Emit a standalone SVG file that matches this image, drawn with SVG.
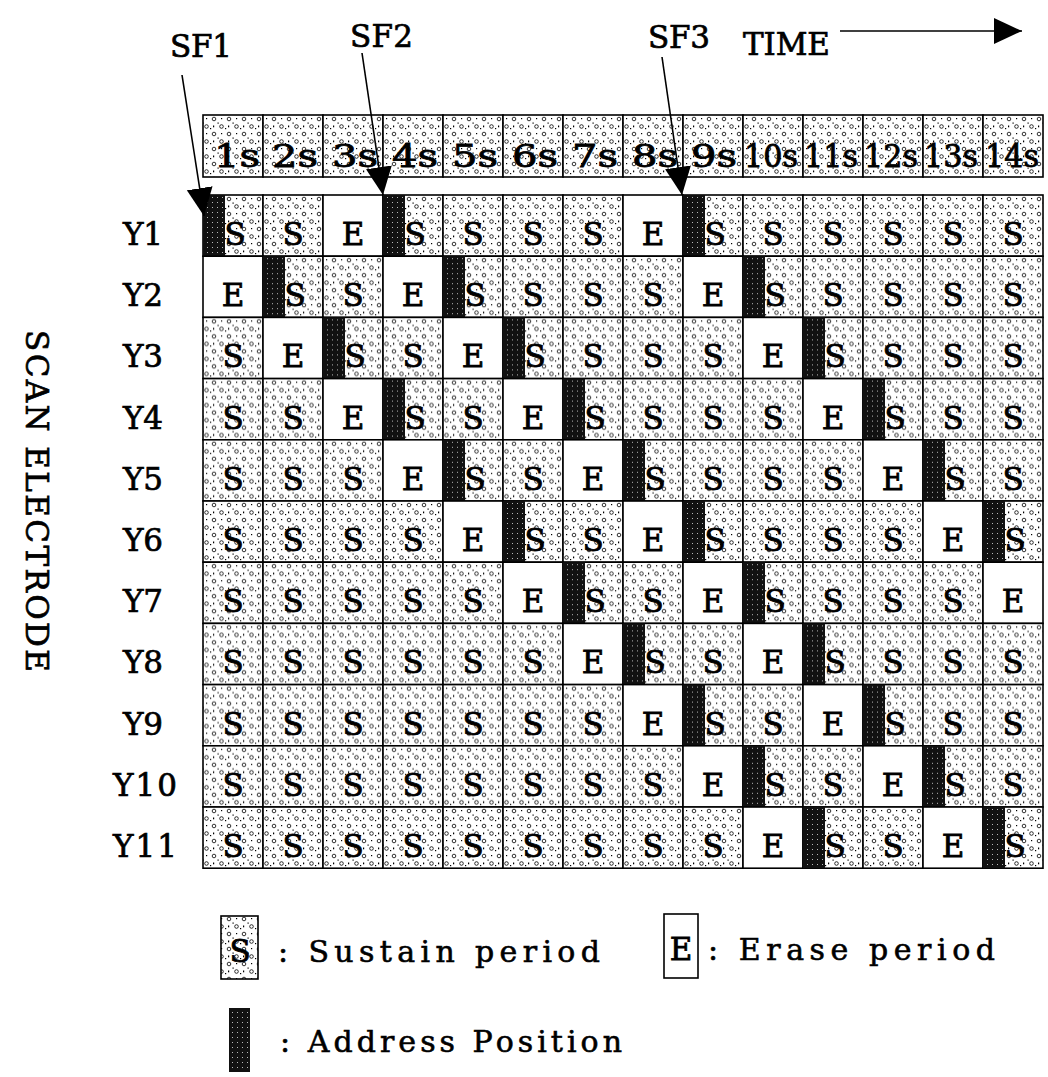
<svg xmlns="http://www.w3.org/2000/svg" width="1048" height="1077" viewBox="0 0 1048 1077">
<style>
.t{font-family:"DejaVu Serif","Liberation Serif",serif;font-size:31px;text-anchor:middle;fill:#000;stroke:#000;stroke-width:0.8}
.lab{font-family:"DejaVu Serif","Liberation Serif",serif;font-size:31px;fill:#000;stroke:#000;stroke-width:0.7}
.leg{font-family:"DejaVu Serif","Liberation Serif",serif;font-size:30px;fill:#000;stroke:#000;stroke-width:0.6}
.s{fill:url(#stip);stroke:#000;stroke-width:1.6}
.e{fill:#fff;stroke:#000;stroke-width:1.6}
.a{fill:url(#adr);stroke:none}
.ln{stroke:#000;stroke-width:1.6;fill:none}
</style>
<defs>
<pattern id="stip" width="15" height="15" patternUnits="userSpaceOnUse">
<rect width="15" height="15" fill="#fff"/>
<circle cx="4" cy="4" r="1.8" fill="none" stroke="#000" stroke-width="0.8"/>
<circle cx="11.5" cy="11.5" r="1.8" fill="none" stroke="#000" stroke-width="0.8"/>
<rect x="11" y="3" width="1.2" height="1.2" fill="#000"/>
<rect x="3" y="10.5" width="1.2" height="1.8" fill="#000"/>
<rect x="7.5" y="7.5" width="1.2" height="1.2" fill="#000"/>
<rect x="0" y="13" width="1.2" height="1.2" fill="#000"/>
</pattern>
<pattern id="adr" width="5" height="5" patternUnits="userSpaceOnUse">
<rect width="5" height="5" fill="#111"/>
<rect x="2" y="2" width="1" height="1" fill="#fff" opacity="0.7"/>
</pattern>
<marker id="ah" markerUnits="userSpaceOnUse" markerWidth="30" markerHeight="28" refX="28" refY="13" orient="auto">
<path d="M0,0 L28,13 L0,26 z" fill="#000"/>
</marker>
</defs>
<rect width="1048" height="1077" fill="#fff"/>

<g id="labels">
<text class="lab" x="170" y="57" textLength="62" lengthAdjust="spacing">SF1</text>
<text class="lab" x="350" y="47" textLength="63" lengthAdjust="spacing">SF2</text>
<text class="lab" x="648" y="48" textLength="62" lengthAdjust="spacing">SF3</text>
<text class="lab" x="743" y="55" textLength="87" lengthAdjust="spacing">TIME</text>
<text class="lab" transform="translate(26,330) rotate(90)" x="0" y="0" textLength="342" lengthAdjust="spacing">SCAN ELECTRODE</text>
</g>

<g id="header" transform="translate(0,115)">
<g id="h1"><rect class="s" x="203" width="60" height="62"/><text class="t" x="237" y="52" textLength="46" lengthAdjust="spacingAndGlyphs">1s</text></g>
<g id="h2"><rect class="s" x="263" width="60" height="62"/><text class="t" x="295" y="52" textLength="46" lengthAdjust="spacingAndGlyphs">2s</text></g>
<g id="h3"><rect class="s" x="323" width="60" height="62"/><text class="t" x="355" y="52" textLength="46" lengthAdjust="spacingAndGlyphs">3s</text></g>
<g id="h4"><rect class="s" x="383" width="60" height="62"/><text class="t" x="415" y="52" textLength="46" lengthAdjust="spacingAndGlyphs">4s</text></g>
<g id="h5"><rect class="s" x="443" width="60" height="62"/><text class="t" x="475" y="52" textLength="46" lengthAdjust="spacingAndGlyphs">5s</text></g>
<g id="h6"><rect class="s" x="503" width="60" height="62"/><text class="t" x="535" y="52" textLength="46" lengthAdjust="spacingAndGlyphs">6s</text></g>
<g id="h7"><rect class="s" x="563" width="60" height="62"/><text class="t" x="595" y="52" textLength="46" lengthAdjust="spacingAndGlyphs">7s</text></g>
<g id="h8"><rect class="s" x="623" width="60" height="62"/><text class="t" x="655" y="52" textLength="46" lengthAdjust="spacingAndGlyphs">8s</text></g>
<g id="h9"><rect class="s" x="683" width="60" height="62"/><text class="t" x="714" y="52" textLength="46" lengthAdjust="spacingAndGlyphs">9s</text></g>
<g id="h10"><rect class="s" x="743" width="60" height="62"/><text class="t" x="771" y="52" textLength="54" lengthAdjust="spacingAndGlyphs">10s</text></g>
<g id="h11"><rect class="s" x="803" width="60" height="62"/><text class="t" x="831" y="52" textLength="54" lengthAdjust="spacingAndGlyphs">11s</text></g>
<g id="h12"><rect class="s" x="863" width="60" height="62"/><text class="t" x="891" y="52" textLength="54" lengthAdjust="spacingAndGlyphs">12s</text></g>
<g id="h13"><rect class="s" x="923" width="60" height="62"/><text class="t" x="951" y="52" textLength="54" lengthAdjust="spacingAndGlyphs">13s</text></g>
<g id="h14"><rect class="s" x="983" width="60" height="62"/><text class="t" x="1012" y="52" textLength="54" lengthAdjust="spacingAndGlyphs">14s</text></g>
</g>

<g id="row-y1" transform="translate(0,195)">
<text class="lab" id="lab-y1" x="143" y="50" text-anchor="middle" textLength="40" lengthAdjust="spacing">Y1</text>
<g id="y1c1"><rect class="s" x="203" width="60" height="61.2"/><rect class="a" x="203" width="22" height="61.2"/><text class="t" x="235" y="50">S</text></g>
<g id="y1c2"><rect class="s" x="263" width="60" height="61.2"/><text class="t" x="293" y="50">S</text></g>
<g id="y1c3"><rect class="e" x="323" width="60" height="61.2"/><text class="t" x="353" y="50">E</text></g>
<g id="y1c4"><rect class="s" x="383" width="60" height="61.2"/><rect class="a" x="383" width="22" height="61.2"/><text class="t" x="415" y="50">S</text></g>
<g id="y1c5"><rect class="s" x="443" width="60" height="61.2"/><text class="t" x="473" y="50">S</text></g>
<g id="y1c6"><rect class="s" x="503" width="60" height="61.2"/><text class="t" x="533" y="50">S</text></g>
<g id="y1c7"><rect class="s" x="563" width="60" height="61.2"/><text class="t" x="593" y="50">S</text></g>
<g id="y1c8"><rect class="e" x="623" width="60" height="61.2"/><text class="t" x="653" y="50">E</text></g>
<g id="y1c9"><rect class="s" x="683" width="60" height="61.2"/><rect class="a" x="683" width="22" height="61.2"/><text class="t" x="715" y="50">S</text></g>
<g id="y1c10"><rect class="s" x="743" width="60" height="61.2"/><text class="t" x="773" y="50">S</text></g>
<g id="y1c11"><rect class="s" x="803" width="60" height="61.2"/><text class="t" x="833" y="50">S</text></g>
<g id="y1c12"><rect class="s" x="863" width="60" height="61.2"/><text class="t" x="893" y="50">S</text></g>
<g id="y1c13"><rect class="s" x="923" width="60" height="61.2"/><text class="t" x="953" y="50">S</text></g>
<g id="y1c14"><rect class="s" x="983" width="60" height="61.2"/><text class="t" x="1013" y="50">S</text></g>
</g>

<g id="row-y2" transform="translate(0,256.2)">
<text class="lab" id="lab-y2" x="143" y="50" text-anchor="middle" textLength="40" lengthAdjust="spacing">Y2</text>
<g id="y2c1"><rect class="e" x="203" width="60" height="61.2"/><text class="t" x="233" y="50">E</text></g>
<g id="y2c2"><rect class="s" x="263" width="60" height="61.2"/><rect class="a" x="263" width="22" height="61.2"/><text class="t" x="295" y="50">S</text></g>
<g id="y2c3"><rect class="s" x="323" width="60" height="61.2"/><text class="t" x="353" y="50">S</text></g>
<g id="y2c4"><rect class="e" x="383" width="60" height="61.2"/><text class="t" x="413" y="50">E</text></g>
<g id="y2c5"><rect class="s" x="443" width="60" height="61.2"/><rect class="a" x="443" width="22" height="61.2"/><text class="t" x="475" y="50">S</text></g>
<g id="y2c6"><rect class="s" x="503" width="60" height="61.2"/><text class="t" x="533" y="50">S</text></g>
<g id="y2c7"><rect class="s" x="563" width="60" height="61.2"/><text class="t" x="593" y="50">S</text></g>
<g id="y2c8"><rect class="s" x="623" width="60" height="61.2"/><text class="t" x="653" y="50">S</text></g>
<g id="y2c9"><rect class="e" x="683" width="60" height="61.2"/><text class="t" x="713" y="50">E</text></g>
<g id="y2c10"><rect class="s" x="743" width="60" height="61.2"/><rect class="a" x="743" width="22" height="61.2"/><text class="t" x="775" y="50">S</text></g>
<g id="y2c11"><rect class="s" x="803" width="60" height="61.2"/><text class="t" x="833" y="50">S</text></g>
<g id="y2c12"><rect class="s" x="863" width="60" height="61.2"/><text class="t" x="893" y="50">S</text></g>
<g id="y2c13"><rect class="s" x="923" width="60" height="61.2"/><text class="t" x="953" y="50">S</text></g>
<g id="y2c14"><rect class="s" x="983" width="60" height="61.2"/><text class="t" x="1013" y="50">S</text></g>
</g>

<g id="row-y3" transform="translate(0,317.4)">
<text class="lab" id="lab-y3" x="143" y="50" text-anchor="middle" textLength="40" lengthAdjust="spacing">Y3</text>
<g id="y3c1"><rect class="s" x="203" width="60" height="61.2"/><text class="t" x="233" y="50">S</text></g>
<g id="y3c2"><rect class="e" x="263" width="60" height="61.2"/><text class="t" x="293" y="50">E</text></g>
<g id="y3c3"><rect class="s" x="323" width="60" height="61.2"/><rect class="a" x="323" width="22" height="61.2"/><text class="t" x="355" y="50">S</text></g>
<g id="y3c4"><rect class="s" x="383" width="60" height="61.2"/><text class="t" x="413" y="50">S</text></g>
<g id="y3c5"><rect class="e" x="443" width="60" height="61.2"/><text class="t" x="473" y="50">E</text></g>
<g id="y3c6"><rect class="s" x="503" width="60" height="61.2"/><rect class="a" x="503" width="22" height="61.2"/><text class="t" x="535" y="50">S</text></g>
<g id="y3c7"><rect class="s" x="563" width="60" height="61.2"/><text class="t" x="593" y="50">S</text></g>
<g id="y3c8"><rect class="s" x="623" width="60" height="61.2"/><text class="t" x="653" y="50">S</text></g>
<g id="y3c9"><rect class="s" x="683" width="60" height="61.2"/><text class="t" x="713" y="50">S</text></g>
<g id="y3c10"><rect class="e" x="743" width="60" height="61.2"/><text class="t" x="773" y="50">E</text></g>
<g id="y3c11"><rect class="s" x="803" width="60" height="61.2"/><rect class="a" x="803" width="22" height="61.2"/><text class="t" x="835" y="50">S</text></g>
<g id="y3c12"><rect class="s" x="863" width="60" height="61.2"/><text class="t" x="893" y="50">S</text></g>
<g id="y3c13"><rect class="s" x="923" width="60" height="61.2"/><text class="t" x="953" y="50">S</text></g>
<g id="y3c14"><rect class="s" x="983" width="60" height="61.2"/><text class="t" x="1013" y="50">S</text></g>
</g>

<g id="row-y4" transform="translate(0,378.6)">
<text class="lab" id="lab-y4" x="143" y="50" text-anchor="middle" textLength="40" lengthAdjust="spacing">Y4</text>
<g id="y4c1"><rect class="s" x="203" width="60" height="61.2"/><text class="t" x="233" y="50">S</text></g>
<g id="y4c2"><rect class="s" x="263" width="60" height="61.2"/><text class="t" x="293" y="50">S</text></g>
<g id="y4c3"><rect class="e" x="323" width="60" height="61.2"/><text class="t" x="353" y="50">E</text></g>
<g id="y4c4"><rect class="s" x="383" width="60" height="61.2"/><rect class="a" x="383" width="22" height="61.2"/><text class="t" x="415" y="50">S</text></g>
<g id="y4c5"><rect class="s" x="443" width="60" height="61.2"/><text class="t" x="473" y="50">S</text></g>
<g id="y4c6"><rect class="e" x="503" width="60" height="61.2"/><text class="t" x="533" y="50">E</text></g>
<g id="y4c7"><rect class="s" x="563" width="60" height="61.2"/><rect class="a" x="563" width="22" height="61.2"/><text class="t" x="595" y="50">S</text></g>
<g id="y4c8"><rect class="s" x="623" width="60" height="61.2"/><text class="t" x="653" y="50">S</text></g>
<g id="y4c9"><rect class="s" x="683" width="60" height="61.2"/><text class="t" x="713" y="50">S</text></g>
<g id="y4c10"><rect class="s" x="743" width="60" height="61.2"/><text class="t" x="773" y="50">S</text></g>
<g id="y4c11"><rect class="e" x="803" width="60" height="61.2"/><text class="t" x="833" y="50">E</text></g>
<g id="y4c12"><rect class="s" x="863" width="60" height="61.2"/><rect class="a" x="863" width="22" height="61.2"/><text class="t" x="895" y="50">S</text></g>
<g id="y4c13"><rect class="s" x="923" width="60" height="61.2"/><text class="t" x="953" y="50">S</text></g>
<g id="y4c14"><rect class="s" x="983" width="60" height="61.2"/><text class="t" x="1013" y="50">S</text></g>
</g>

<g id="row-y5" transform="translate(0,439.8)">
<text class="lab" id="lab-y5" x="143" y="50" text-anchor="middle" textLength="40" lengthAdjust="spacing">Y5</text>
<g id="y5c1"><rect class="s" x="203" width="60" height="61.2"/><text class="t" x="233" y="50">S</text></g>
<g id="y5c2"><rect class="s" x="263" width="60" height="61.2"/><text class="t" x="293" y="50">S</text></g>
<g id="y5c3"><rect class="s" x="323" width="60" height="61.2"/><text class="t" x="353" y="50">S</text></g>
<g id="y5c4"><rect class="e" x="383" width="60" height="61.2"/><text class="t" x="413" y="50">E</text></g>
<g id="y5c5"><rect class="s" x="443" width="60" height="61.2"/><rect class="a" x="443" width="22" height="61.2"/><text class="t" x="475" y="50">S</text></g>
<g id="y5c6"><rect class="s" x="503" width="60" height="61.2"/><text class="t" x="533" y="50">S</text></g>
<g id="y5c7"><rect class="e" x="563" width="60" height="61.2"/><text class="t" x="593" y="50">E</text></g>
<g id="y5c8"><rect class="s" x="623" width="60" height="61.2"/><rect class="a" x="623" width="22" height="61.2"/><text class="t" x="655" y="50">S</text></g>
<g id="y5c9"><rect class="s" x="683" width="60" height="61.2"/><text class="t" x="713" y="50">S</text></g>
<g id="y5c10"><rect class="s" x="743" width="60" height="61.2"/><text class="t" x="773" y="50">S</text></g>
<g id="y5c11"><rect class="s" x="803" width="60" height="61.2"/><text class="t" x="833" y="50">S</text></g>
<g id="y5c12"><rect class="e" x="863" width="60" height="61.2"/><text class="t" x="893" y="50">E</text></g>
<g id="y5c13"><rect class="s" x="923" width="60" height="61.2"/><rect class="a" x="923" width="22" height="61.2"/><text class="t" x="955" y="50">S</text></g>
<g id="y5c14"><rect class="s" x="983" width="60" height="61.2"/><text class="t" x="1013" y="50">S</text></g>
</g>

<g id="row-y6" transform="translate(0,501)">
<text class="lab" id="lab-y6" x="143" y="50" text-anchor="middle" textLength="40" lengthAdjust="spacing">Y6</text>
<g id="y6c1"><rect class="s" x="203" width="60" height="61.2"/><text class="t" x="233" y="50">S</text></g>
<g id="y6c2"><rect class="s" x="263" width="60" height="61.2"/><text class="t" x="293" y="50">S</text></g>
<g id="y6c3"><rect class="s" x="323" width="60" height="61.2"/><text class="t" x="353" y="50">S</text></g>
<g id="y6c4"><rect class="s" x="383" width="60" height="61.2"/><text class="t" x="413" y="50">S</text></g>
<g id="y6c5"><rect class="e" x="443" width="60" height="61.2"/><text class="t" x="473" y="50">E</text></g>
<g id="y6c6"><rect class="s" x="503" width="60" height="61.2"/><rect class="a" x="503" width="22" height="61.2"/><text class="t" x="535" y="50">S</text></g>
<g id="y6c7"><rect class="s" x="563" width="60" height="61.2"/><text class="t" x="593" y="50">S</text></g>
<g id="y6c8"><rect class="e" x="623" width="60" height="61.2"/><text class="t" x="653" y="50">E</text></g>
<g id="y6c9"><rect class="s" x="683" width="60" height="61.2"/><rect class="a" x="683" width="22" height="61.2"/><text class="t" x="715" y="50">S</text></g>
<g id="y6c10"><rect class="s" x="743" width="60" height="61.2"/><text class="t" x="773" y="50">S</text></g>
<g id="y6c11"><rect class="s" x="803" width="60" height="61.2"/><text class="t" x="833" y="50">S</text></g>
<g id="y6c12"><rect class="s" x="863" width="60" height="61.2"/><text class="t" x="893" y="50">S</text></g>
<g id="y6c13"><rect class="e" x="923" width="60" height="61.2"/><text class="t" x="953" y="50">E</text></g>
<g id="y6c14"><rect class="s" x="983" width="60" height="61.2"/><rect class="a" x="983" width="22" height="61.2"/><text class="t" x="1015" y="50">S</text></g>
</g>

<g id="row-y7" transform="translate(0,562.2)">
<text class="lab" id="lab-y7" x="143" y="50" text-anchor="middle" textLength="40" lengthAdjust="spacing">Y7</text>
<g id="y7c1"><rect class="s" x="203" width="60" height="61.2"/><text class="t" x="233" y="50">S</text></g>
<g id="y7c2"><rect class="s" x="263" width="60" height="61.2"/><text class="t" x="293" y="50">S</text></g>
<g id="y7c3"><rect class="s" x="323" width="60" height="61.2"/><text class="t" x="353" y="50">S</text></g>
<g id="y7c4"><rect class="s" x="383" width="60" height="61.2"/><text class="t" x="413" y="50">S</text></g>
<g id="y7c5"><rect class="s" x="443" width="60" height="61.2"/><text class="t" x="473" y="50">S</text></g>
<g id="y7c6"><rect class="e" x="503" width="60" height="61.2"/><text class="t" x="533" y="50">E</text></g>
<g id="y7c7"><rect class="s" x="563" width="60" height="61.2"/><rect class="a" x="563" width="22" height="61.2"/><text class="t" x="595" y="50">S</text></g>
<g id="y7c8"><rect class="s" x="623" width="60" height="61.2"/><text class="t" x="653" y="50">S</text></g>
<g id="y7c9"><rect class="e" x="683" width="60" height="61.2"/><text class="t" x="713" y="50">E</text></g>
<g id="y7c10"><rect class="s" x="743" width="60" height="61.2"/><rect class="a" x="743" width="22" height="61.2"/><text class="t" x="775" y="50">S</text></g>
<g id="y7c11"><rect class="s" x="803" width="60" height="61.2"/><text class="t" x="833" y="50">S</text></g>
<g id="y7c12"><rect class="s" x="863" width="60" height="61.2"/><text class="t" x="893" y="50">S</text></g>
<g id="y7c13"><rect class="s" x="923" width="60" height="61.2"/><text class="t" x="953" y="50">S</text></g>
<g id="y7c14"><rect class="e" x="983" width="60" height="61.2"/><text class="t" x="1013" y="50">E</text></g>
</g>

<g id="row-y8" transform="translate(0,623.4)">
<text class="lab" id="lab-y8" x="143" y="50" text-anchor="middle" textLength="40" lengthAdjust="spacing">Y8</text>
<g id="y8c1"><rect class="s" x="203" width="60" height="61.2"/><text class="t" x="233" y="50">S</text></g>
<g id="y8c2"><rect class="s" x="263" width="60" height="61.2"/><text class="t" x="293" y="50">S</text></g>
<g id="y8c3"><rect class="s" x="323" width="60" height="61.2"/><text class="t" x="353" y="50">S</text></g>
<g id="y8c4"><rect class="s" x="383" width="60" height="61.2"/><text class="t" x="413" y="50">S</text></g>
<g id="y8c5"><rect class="s" x="443" width="60" height="61.2"/><text class="t" x="473" y="50">S</text></g>
<g id="y8c6"><rect class="s" x="503" width="60" height="61.2"/><text class="t" x="533" y="50">S</text></g>
<g id="y8c7"><rect class="e" x="563" width="60" height="61.2"/><text class="t" x="593" y="50">E</text></g>
<g id="y8c8"><rect class="s" x="623" width="60" height="61.2"/><rect class="a" x="623" width="22" height="61.2"/><text class="t" x="655" y="50">S</text></g>
<g id="y8c9"><rect class="s" x="683" width="60" height="61.2"/><text class="t" x="713" y="50">S</text></g>
<g id="y8c10"><rect class="e" x="743" width="60" height="61.2"/><text class="t" x="773" y="50">E</text></g>
<g id="y8c11"><rect class="s" x="803" width="60" height="61.2"/><rect class="a" x="803" width="22" height="61.2"/><text class="t" x="835" y="50">S</text></g>
<g id="y8c12"><rect class="s" x="863" width="60" height="61.2"/><text class="t" x="893" y="50">S</text></g>
<g id="y8c13"><rect class="s" x="923" width="60" height="61.2"/><text class="t" x="953" y="50">S</text></g>
<g id="y8c14"><rect class="s" x="983" width="60" height="61.2"/><text class="t" x="1013" y="50">S</text></g>
</g>

<g id="row-y9" transform="translate(0,684.6)">
<text class="lab" id="lab-y9" x="143" y="50" text-anchor="middle" textLength="40" lengthAdjust="spacing">Y9</text>
<g id="y9c1"><rect class="s" x="203" width="60" height="61.2"/><text class="t" x="233" y="50">S</text></g>
<g id="y9c2"><rect class="s" x="263" width="60" height="61.2"/><text class="t" x="293" y="50">S</text></g>
<g id="y9c3"><rect class="s" x="323" width="60" height="61.2"/><text class="t" x="353" y="50">S</text></g>
<g id="y9c4"><rect class="s" x="383" width="60" height="61.2"/><text class="t" x="413" y="50">S</text></g>
<g id="y9c5"><rect class="s" x="443" width="60" height="61.2"/><text class="t" x="473" y="50">S</text></g>
<g id="y9c6"><rect class="s" x="503" width="60" height="61.2"/><text class="t" x="533" y="50">S</text></g>
<g id="y9c7"><rect class="s" x="563" width="60" height="61.2"/><text class="t" x="593" y="50">S</text></g>
<g id="y9c8"><rect class="e" x="623" width="60" height="61.2"/><text class="t" x="653" y="50">E</text></g>
<g id="y9c9"><rect class="s" x="683" width="60" height="61.2"/><rect class="a" x="683" width="22" height="61.2"/><text class="t" x="715" y="50">S</text></g>
<g id="y9c10"><rect class="s" x="743" width="60" height="61.2"/><text class="t" x="773" y="50">S</text></g>
<g id="y9c11"><rect class="e" x="803" width="60" height="61.2"/><text class="t" x="833" y="50">E</text></g>
<g id="y9c12"><rect class="s" x="863" width="60" height="61.2"/><rect class="a" x="863" width="22" height="61.2"/><text class="t" x="895" y="50">S</text></g>
<g id="y9c13"><rect class="s" x="923" width="60" height="61.2"/><text class="t" x="953" y="50">S</text></g>
<g id="y9c14"><rect class="s" x="983" width="60" height="61.2"/><text class="t" x="1013" y="50">S</text></g>
</g>

<g id="row-y10" transform="translate(0,745.8)">
<text class="lab" id="lab-y10" x="145" y="50" text-anchor="middle" textLength="64" lengthAdjust="spacing">Y10</text>
<g id="y10c1"><rect class="s" x="203" width="60" height="61.2"/><text class="t" x="233" y="50">S</text></g>
<g id="y10c2"><rect class="s" x="263" width="60" height="61.2"/><text class="t" x="293" y="50">S</text></g>
<g id="y10c3"><rect class="s" x="323" width="60" height="61.2"/><text class="t" x="353" y="50">S</text></g>
<g id="y10c4"><rect class="s" x="383" width="60" height="61.2"/><text class="t" x="413" y="50">S</text></g>
<g id="y10c5"><rect class="s" x="443" width="60" height="61.2"/><text class="t" x="473" y="50">S</text></g>
<g id="y10c6"><rect class="s" x="503" width="60" height="61.2"/><text class="t" x="533" y="50">S</text></g>
<g id="y10c7"><rect class="s" x="563" width="60" height="61.2"/><text class="t" x="593" y="50">S</text></g>
<g id="y10c8"><rect class="s" x="623" width="60" height="61.2"/><text class="t" x="653" y="50">S</text></g>
<g id="y10c9"><rect class="e" x="683" width="60" height="61.2"/><text class="t" x="713" y="50">E</text></g>
<g id="y10c10"><rect class="s" x="743" width="60" height="61.2"/><rect class="a" x="743" width="22" height="61.2"/><text class="t" x="775" y="50">S</text></g>
<g id="y10c11"><rect class="s" x="803" width="60" height="61.2"/><text class="t" x="833" y="50">S</text></g>
<g id="y10c12"><rect class="e" x="863" width="60" height="61.2"/><text class="t" x="893" y="50">E</text></g>
<g id="y10c13"><rect class="s" x="923" width="60" height="61.2"/><rect class="a" x="923" width="22" height="61.2"/><text class="t" x="955" y="50">S</text></g>
<g id="y10c14"><rect class="s" x="983" width="60" height="61.2"/><text class="t" x="1013" y="50">S</text></g>
</g>

<g id="row-y11" transform="translate(0,807)">
<text class="lab" id="lab-y11" x="145" y="50" text-anchor="middle" textLength="64" lengthAdjust="spacing">Y11</text>
<g id="y11c1"><rect class="s" x="203" width="60" height="61.2"/><text class="t" x="233" y="50">S</text></g>
<g id="y11c2"><rect class="s" x="263" width="60" height="61.2"/><text class="t" x="293" y="50">S</text></g>
<g id="y11c3"><rect class="s" x="323" width="60" height="61.2"/><text class="t" x="353" y="50">S</text></g>
<g id="y11c4"><rect class="s" x="383" width="60" height="61.2"/><text class="t" x="413" y="50">S</text></g>
<g id="y11c5"><rect class="s" x="443" width="60" height="61.2"/><text class="t" x="473" y="50">S</text></g>
<g id="y11c6"><rect class="s" x="503" width="60" height="61.2"/><text class="t" x="533" y="50">S</text></g>
<g id="y11c7"><rect class="s" x="563" width="60" height="61.2"/><text class="t" x="593" y="50">S</text></g>
<g id="y11c8"><rect class="s" x="623" width="60" height="61.2"/><text class="t" x="653" y="50">S</text></g>
<g id="y11c9"><rect class="s" x="683" width="60" height="61.2"/><text class="t" x="713" y="50">S</text></g>
<g id="y11c10"><rect class="e" x="743" width="60" height="61.2"/><text class="t" x="773" y="50">E</text></g>
<g id="y11c11"><rect class="s" x="803" width="60" height="61.2"/><rect class="a" x="803" width="22" height="61.2"/><text class="t" x="835" y="50">S</text></g>
<g id="y11c12"><rect class="s" x="863" width="60" height="61.2"/><text class="t" x="893" y="50">S</text></g>
<g id="y11c13"><rect class="e" x="923" width="60" height="61.2"/><text class="t" x="953" y="50">E</text></g>
<g id="y11c14"><rect class="s" x="983" width="60" height="61.2"/><rect class="a" x="983" width="22" height="61.2"/><text class="t" x="1015" y="50">S</text></g>
</g>

<g id="legend">
<g id="leg-sustain"><rect class="s" x="221" y="916" width="37" height="63"/><text class="t" x="240" y="962">S</text><text class="leg" x="278" y="962" textLength="322" lengthAdjust="spacing">: Sustain period</text></g>
<g id="leg-erase"><rect class="e" x="664" y="914" width="34" height="64"/><text class="t" x="681" y="960">E</text><text class="leg" x="708" y="960" textLength="287" lengthAdjust="spacing">: Erase period</text></g>
<g id="leg-address"><rect class="a" x="229" y="1008" width="21" height="64"/><text class="leg" x="280" y="1052" textLength="342" lengthAdjust="spacing">: Address Position</text></g>
</g>

<g id="connectors">
<line class="ln" x1="182" y1="75" x2="204" y2="216" marker-end="url(#ah)"/>
<line class="ln" x1="362" y1="53" x2="383" y2="195" marker-end="url(#ah)"/>
<line class="ln" x1="662" y1="57" x2="682" y2="195" marker-end="url(#ah)"/>
<line class="ln" x1="840" y1="31" x2="1022" y2="31" marker-end="url(#ah)"/>
</g>
</svg>
